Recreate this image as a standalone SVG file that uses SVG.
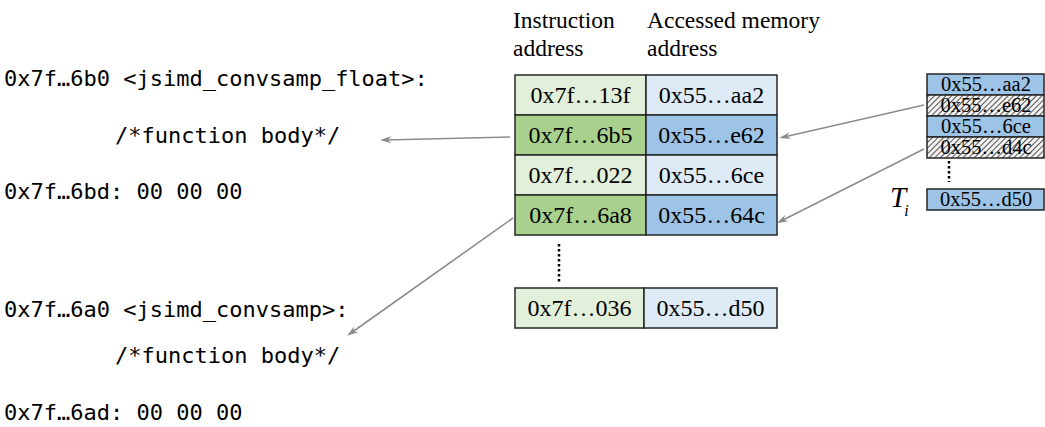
<svg xmlns="http://www.w3.org/2000/svg" width="1045" height="427" viewBox="0 0 1045 427">
  <style>
    .code { font-family: "DejaVu Sans Mono", "Liberation Mono", monospace; font-size: 22px; fill: #000; }
    .hdr { font-family: "Liberation Serif", serif; font-size: 23.5px; fill: #000; }
    .cell { font-family: "Liberation Serif", serif; font-size: 24px; fill: #000; text-anchor: middle; }
    .small { font-family: "Liberation Serif", serif; font-size: 20.5px; fill: #000; text-anchor: middle; }
    .box { stroke: #262626; stroke-width: 1.5; }
    .g1 { fill: #E2EFDA; }
    .g2 { fill: #A9D18E; }
    .b1 { fill: #DEEBF7; }
    .b2 { fill: #9DC3E6; }
    .dots { stroke: #000; stroke-width: 2.5; stroke-dasharray: 2.5 2.5; fill: none; }
    .arrow { stroke: #8c8c8c; stroke-width: 1.6; fill: none; marker-end: url(#head); }
  </style>
  <defs>
    <marker id="head" viewBox="0 0 10 10" refX="9" refY="5" markerWidth="10" markerHeight="7" markerUnits="userSpaceOnUse" orient="auto" overflow="visible">
      <path d="M0,0 L10,5 L0,10 L3,5 Z" fill="#8c8c8c" transform="scale(1.6,1)"/>
    </marker>
    <pattern id="hatch" width="4" height="4" patternUnits="userSpaceOnUse" patternTransform="rotate(45)">
      <rect width="4" height="4" fill="#f2f2f2"/>
      <line x1="0" y1="0" x2="0" y2="4" stroke="#555" stroke-width="2"/>
    </pattern>
  </defs>

  <!-- disassembly listing -->
  <g id="listing">
    <text class="code" x="4" y="86">0x7f…6b0 &lt;jsimd_convsamp_float&gt;:</text>
    <text class="code" x="115" y="143">/*function body*/</text>
    <text class="code" x="4" y="199">0x7f…6bd: 00 00 00</text>
    <text class="code" x="4" y="317">0x7f…6a0 &lt;jsimd_convsamp&gt;:</text>
    <text class="code" x="115" y="363">/*function body*/</text>
    <text class="code" x="4" y="420">0x7f…6ad: 00 00 00</text>
  </g>

  <!-- column headings -->
  <g id="headers">
    <text class="hdr" x="513" y="28">Instruction</text>
    <text class="hdr" x="513" y="56">address</text>
    <text class="hdr" x="647" y="28">Accessed memory</text>
    <text class="hdr" x="647" y="56">address</text>
  </g>

  <!-- trace table -->
  <g id="trace-table">
    <rect class="box g1" x="515" y="75" width="131" height="40"/>
    <rect class="box b1" x="646" y="75" width="131" height="40"/>
    <rect class="box g2" x="515" y="115" width="131" height="40"/>
    <rect class="box b2" x="646" y="115" width="131" height="40"/>
    <rect class="box g1" x="515" y="155" width="131" height="40"/>
    <rect class="box b1" x="646" y="155" width="131" height="40"/>
    <rect class="box g2" x="515" y="195" width="131" height="40"/>
    <rect class="box b2" x="646" y="195" width="131" height="40"/>
    <text class="cell" x="580.5" y="103">0x7f…13f</text>
    <text class="cell" x="711.5" y="103">0x55…aa2</text>
    <text class="cell" x="580.5" y="143">0x7f…6b5</text>
    <text class="cell" x="711.5" y="143">0x55…e62</text>
    <text class="cell" x="580.5" y="183">0x7f…022</text>
    <text class="cell" x="711.5" y="183">0x55…6ce</text>
    <text class="cell" x="580.5" y="223">0x7f…6a8</text>
    <text class="cell" x="711.5" y="223">0x55…64c</text>
    <line class="dots" x1="559" y1="244" x2="559" y2="283"/>
    <rect class="box g1" x="515" y="288" width="129" height="40"/>
    <rect class="box b1" x="644" y="288" width="133" height="40"/>
    <text class="cell" x="579.5" y="316">0x7f…036</text>
    <text class="cell" x="710.5" y="316">0x55…d50</text>
  </g>

  <!-- memory access set T_i -->
  <g id="access-set">
    <rect class="box b2" x="927" y="74" width="117" height="21"/>
    <rect class="box" fill="url(#hatch)" x="927" y="95" width="117" height="21"/>
    <rect class="box b2" x="927" y="116" width="117" height="21"/>
    <rect class="box" fill="url(#hatch)" x="927" y="137" width="117" height="21"/>
    <text class="small" x="986" y="91">0x55…aa2</text>
    <text class="small" x="986" y="112">0x55…e62</text>
    <text class="small" x="986" y="133">0x55…6ce</text>
    <text class="small" x="986" y="154">0x55…d4c</text>
    <line class="dots" x1="949" y1="161" x2="949" y2="182"/>
    <rect class="box b2" x="927" y="189" width="117" height="21"/>
    <text class="small" x="986" y="206">0x55…d50</text>
  </g>

  <g id="label-Ti">
    <text font-family="Liberation Serif, serif" font-style="italic" font-size="29" x="890" y="207">T<tspan font-size="16" dx="-2" dy="9">i</tspan></text>
  </g>

  <!-- connectors -->
  <g id="connectors">
    <line class="arrow" x1="510" y1="137" x2="385" y2="140"/>
    <line class="arrow" x1="513" y1="218" x2="351" y2="333"/>
    <line class="arrow" x1="924" y1="105" x2="784" y2="137"/>
    <line class="arrow" x1="924" y1="149" x2="781" y2="221"/>
  </g>
</svg>
